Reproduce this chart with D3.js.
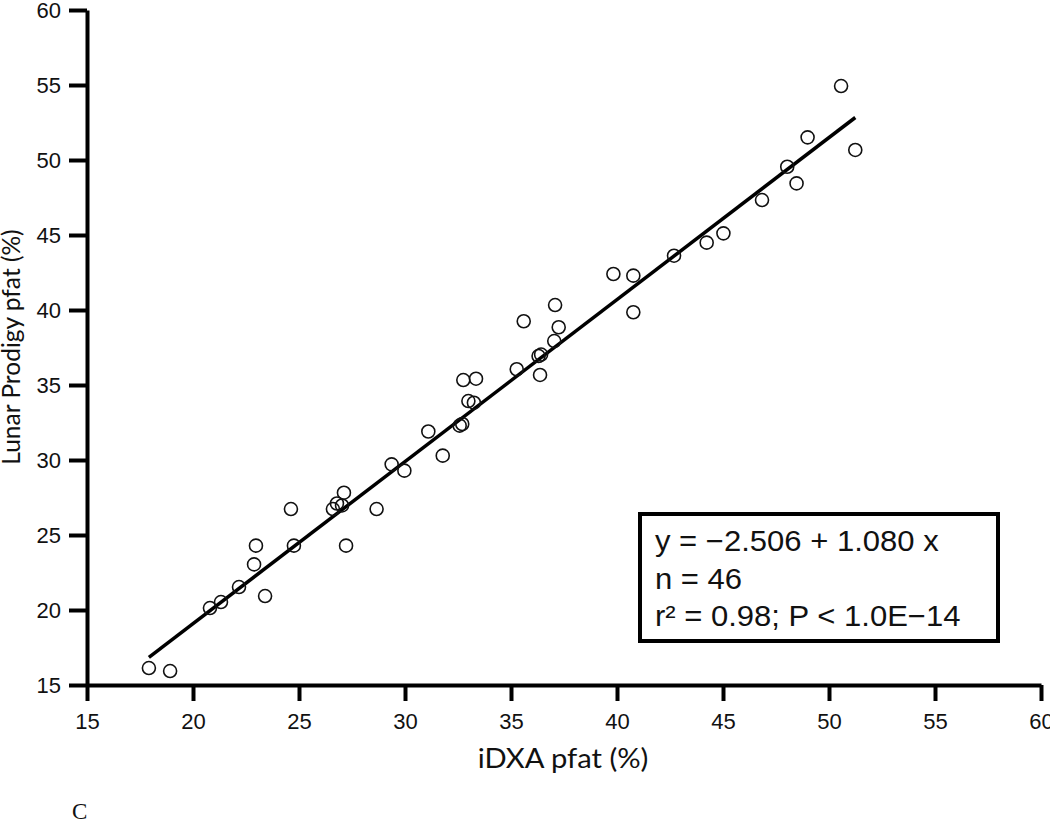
<!DOCTYPE html>
<html>
<head>
<meta charset="utf-8">
<script src="https://cdn.jsdelivr.net/npm/d3@7"></script>
<style>
  body { margin: 0; background: #fff; }
</style>
</head>
<body>
<script>
// iDXA vs Lunar Prodigy percent fat
const idxa = [17.92, 18.92, 20.80, 21.32, 22.17, 23.40, 22.88, 22.97, 24.62, 24.76,
  26.60, 26.79, 27.03, 27.12, 27.22, 28.66, 29.37, 29.97, 31.10, 31.78,
  32.58, 32.70, 32.75, 33.35, 32.99, 33.25, 35.27, 35.60, 36.30, 36.42,
  36.37, 37.08, 37.25, 37.04, 39.83, 40.77, 40.77, 42.69, 44.23, 45.02,
  46.84, 48.03, 48.47, 48.99, 50.57, 51.24];
const prodigy = [16.13, 15.93, 20.13, 20.53, 21.53, 20.93, 23.04, 24.29, 26.73, 24.29,
  26.73, 27.10, 26.97, 27.82, 24.29, 26.73, 29.71, 29.29, 31.90, 30.29,
  32.29, 32.40, 35.33, 35.42, 33.93, 33.82, 36.05, 39.25, 36.93, 37.03,
  35.67, 40.33, 38.85, 37.93, 42.40, 42.29, 39.85, 43.62, 44.49, 45.11,
  47.33, 49.55, 48.44, 51.51, 54.93, 50.67];
const fit = { intercept: -2.506, slope: 1.080 };
const ticks = [15, 20, 25, 30, 35, 40, 45, 50, 55, 60];
const statLines = ["y = \u22122.506 + 1.080 x", "n = 46", "r\u00b2 = 0.98; P < 1.0E\u221214"];

let width = 1050;
let height = 822;
let svg = d3.select("body").append("svg")
  .attr("width", width)
  .attr("height", height);

let x = d3.scaleLinear().domain([15, 60]).range([87, 1041]);
let y = d3.scaleLinear().domain([15, 60]).range([685, 10]);

let styleAxis = (g) => {
  g.select(".domain").attr("stroke", "#000").attr("stroke-width", 4);
  g.selectAll(".tick line").attr("stroke", "#000").attr("stroke-width", 4);
  g.selectAll(".tick text")
    .attr("fill", "#111")
    .style("font-family", "'Liberation Sans', Arial, sans-serif")
    .style("font-size", "22px");
};

svg.append("g")
  .attr("transform", `translate(0,${y(15)})`)
  .call(d3.axisBottom(x).tickValues(ticks).tickSize(16).tickSizeOuter(0).tickPadding(12))
  .call(styleAxis);

svg.append("g")
  .attr("transform", `translate(${x(15)},0)`)
  .call(d3.axisLeft(y).tickValues(ticks).tickSize(18).tickSizeOuter(0).tickPadding(8))
  .call(styleAxis);

// regression line over the range of the data
let [xmin, xmax] = d3.extent(idxa);
svg.append("line")
  .attr("x1", x(xmin))
  .attr("y1", y(fit.intercept + fit.slope * xmin))
  .attr("x2", x(xmax))
  .attr("y2", y(fit.intercept + fit.slope * xmax))
  .attr("stroke", "#000")
  .attr("stroke-width", 3.5);

svg.append("g").selectAll("circle")
  .data(idxa.map((d, i) => [d, prodigy[i]]))
  .join("circle")
  .attr("cx", (d) => x(d[0]))
  .attr("cy", (d) => y(d[1]))
  .attr("r", 6.5)
  .attr("fill", "none")
  .attr("stroke", "#111")
  .attr("stroke-width", 1.6);

// stats box
svg.append("rect")
  .attr("x", 640)
  .attr("y", 514)
  .attr("width", 358)
  .attr("height", 127)
  .attr("fill", "#fff")
  .attr("stroke", "#000")
  .attr("stroke-width", 4);

svg.append("g").selectAll("text")
  .data(statLines)
  .join("text")
  .attr("transform", (d, i) => `translate(655,${551 + i * 37.5}) scale(1.07,1)`)
  .style("font-family", "'Liberation Sans', Arial, sans-serif")
  .style("font-size", "29px")
  .attr("fill", "#111")
  .text((d) => d);

svg.append("text")
  .attr("transform", "translate(563,768) scale(1.08,1)")
  .attr("text-anchor", "middle")
  .style("font-family", "Lato, sans-serif")
  .style("font-size", "27px")
  .attr("fill", "#111")
  .text("iDXA pfat (%)");

svg.append("text")
  .attr("transform", "translate(20,347) rotate(-90)")
  .attr("text-anchor", "middle")
  .style("font-family", "Lato, sans-serif")
  .style("font-size", "24.5px")
  .attr("fill", "#111")
  .text("Lunar Prodigy pfat (%)");

svg.append("text")
  .attr("x", 72)
  .attr("y", 819)
  .style("font-family", "'Liberation Serif', 'Times New Roman', serif")
  .style("font-size", "23px")
  .attr("fill", "#111")
  .text("C");
</script>
</body>
</html>
